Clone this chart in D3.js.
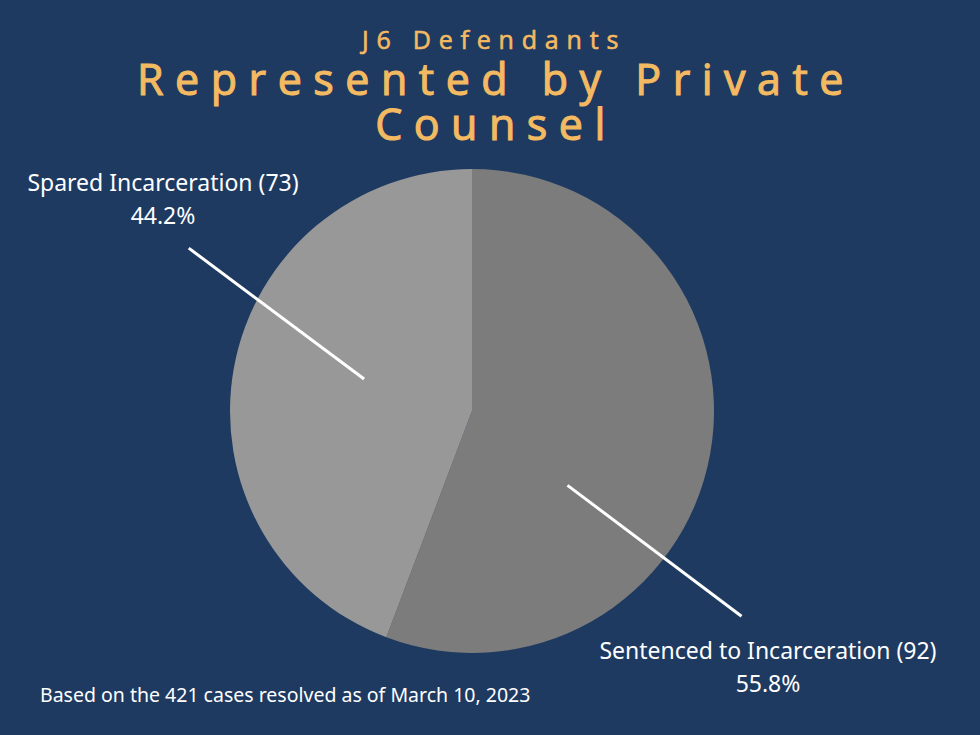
<!DOCTYPE html>
<html>
<head>
<meta charset="utf-8">
<script src="https://cdn.jsdelivr.net/npm/d3@7"></script>
<style>
  html, body { margin: 0; padding: 0; background: #1e3a61; }
  svg { display: block; }
</style>
</head>
<body>
<div id="app"></div>
<script>
// chart values
const categories = ["Sentenced to Incarceration", "Spared Incarceration"];
const counts = [92, 73];
const percents = ["55.8%", "44.2%"];
const sliceColors = ["#7c7c7c", "#989898"];

const titleLines = ["J6 Defendants", "Represented by Private", "Counsel"];
const footnote = "Based on the 421 cases resolved as of March 10, 2023";

const width = 980, height = 735;
const cx = 472, cy = 411, radius = 242;

// leader line geometry, in polar terms (angle deg clockwise from 12 o'clock, fraction of radius)
const leaders = [
  { from: [127.9, 0.50], to: [127.3, 1.40], label: [768, 659] },
  { from: [286.5, 0.465], to: [299.9, 1.35], label: [163, 191] }
];

const svg = d3.select("#app").append("svg")
  .attr("width", width)
  .attr("height", height);

svg.append("rect").attr("width", width).attr("height", height).attr("fill", "#1e3a61");

// title (regular weight thickened a little with a stroke, to get a medium look)
const title = svg.append("g")
  .attr("fill", "#f4ba61")
  .attr("stroke", "#f4ba61")
  .attr("text-anchor", "middle")
  .attr("font-family", "'Open Sans', sans-serif");

title.append("text")
  .attr("x", 494).attr("y", 49)
  .attr("font-size", 25).attr("stroke-width", 0.6).attr("letter-spacing", 7.8)
  .text(titleLines[0]);
title.selectAll("text.big")
  .data(titleLines.slice(1))
  .join("text")
  .attr("class", "big")
  .attr("x", 496)
  .attr("y", (d, i) => 95 + i * 45)
  .attr("font-size", 43)
  .attr("stroke-width", 1.1)
  .attr("letter-spacing", 11.5)
  .text(d => d);

// pie
const pie = d3.pie().sort(null).value(d => d)(counts);
const arc = d3.arc().innerRadius(0).outerRadius(radius);

const g = svg.append("g").attr("transform", `translate(${cx},${cy})`);
g.selectAll("path")
  .data(pie)
  .join("path")
  .attr("d", arc)
  .attr("fill", (d, i) => sliceColors[i]);

// leader lines
function polar([deg, f]) {
  const a = deg * Math.PI / 180;
  return [Math.sin(a) * radius * f, -Math.cos(a) * radius * f];
}
g.selectAll("line.leader")
  .data(leaders)
  .join("line")
  .attr("class", "leader")
  .attr("x1", d => polar(d.from)[0])
  .attr("y1", d => polar(d.from)[1])
  .attr("x2", d => polar(d.to)[0])
  .attr("y2", d => polar(d.to)[1])
  .attr("stroke", "#ffffff")
  .attr("stroke-width", 3);

// labels
const labels = svg.append("g")
  .attr("fill", "#ffffff")
  .attr("text-anchor", "middle")
  .attr("font-family", "'Noto Sans', 'Open Sans', sans-serif")
  .attr("font-size", 23);

categories.forEach((c, i) => {
  const [lx, ly] = leaders[i].label;
  labels.append("text").attr("x", lx).attr("y", ly).text(`${c} (${counts[i]})`);
  labels.append("text").attr("x", lx).attr("y", ly + 33).text(percents[i]);
});

svg.append("text")
  .attr("x", 40).attr("y", 702)
  .attr("fill", "#ffffff")
  .attr("font-family", "'Noto Sans', 'Open Sans', sans-serif")
  .attr("font-size", 19.5)
  .text(footnote);
</script>
</body>
</html>
